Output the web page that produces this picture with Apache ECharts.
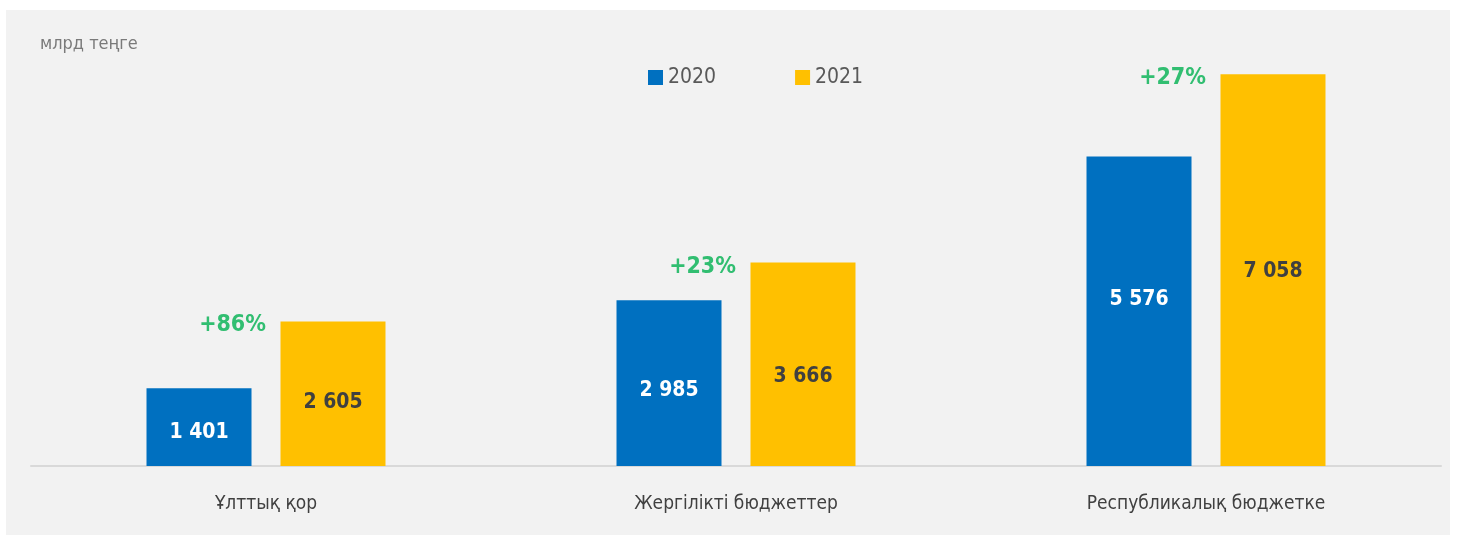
<!DOCTYPE html>
<html>
<head>
    <meta charset="utf-8">
    <script src="https://cdn.jsdelivr.net/npm/echarts@6/dist/echarts.min.js"></script>
    <style>
        body { margin: 0; background: #fff; }
    </style>
</head>
<body>
    <div id="main" style="width: 1457px;height:535px;"></div>
    <script type="text/javascript">
        var categories = ['Ұлттық қор', 'Жергілікті бюджеттер', 'Республикалық бюджетке'];
        var values2020 = [1401, 2985, 5576];
        var values2021 = [2605, 3666, 7058];
        var growth = ['+86%', '+23%', '+27%'];

        // сдвиг подписей внутри столбцов (как в исходнике)
        var shift2020 = [5, 7, -12];
        var shift2021 = [9, 12, 1];

        var font = '"DejaVu Sans Condensed", "Liberation Sans Narrow", sans-serif';

        // пробел как разделитель тысяч
        var fmt = function (v) {
            return String(v).replace(/\B(?=(\d{3})+(?!\d))/g, ' ');
        };

        var withShift = function (vals, shifts) {
            return vals.map(function (v, i) {
                return { value: v, label: { offset: [0, shifts[i]] } };
            });
        };

        var myChart = echarts.init(document.getElementById('main'));

        var option = {
            backgroundColor: '#fff',
            textStyle: { fontFamily: font },
            graphic: [{
                type: 'rect',
                z: -10,
                shape: { x: 6, y: 10, width: 1444, height: 525 },
                style: { fill: '#f2f2f2' }
            }],
            title: {
                text: 'млрд теңге',
                left: 35,
                top: 30,
                textStyle: { fontFamily: font, fontSize: 18, fontWeight: 'normal', color: '#7a7a7a' }
            },
            legend: {
                data: ['2020', '2021'],
                left: 643,
                top: 62,
                itemWidth: 15,
                itemHeight: 15,
                itemGap: 79,
                icon: 'rect',
                textStyle: { fontFamily: font, fontSize: 21, color: '#595959' }
            },
            grid: { left: 31, right: 16, top: 22, bottom: 69 },
            xAxis: {
                type: 'category',
                data: categories,
                axisLine: { lineStyle: { color: '#d9d9d9', width: 2 } },
                axisTick: { show: false },
                axisLabel: { fontFamily: font, fontSize: 19, color: '#404040', margin: 29 }
            },
            yAxis: {
                type: 'value',
                min: 0,
                max: 8000,
                show: false,
                splitLine: { show: false }
            },
            series: [{
                name: '2020',
                type: 'bar',
                data: withShift(values2020, shift2020),
                barWidth: 105,
                barGap: '27.6%',
                itemStyle: { color: '#0070c0' },
                label: {
                    show: true,
                    position: 'inside',
                    formatter: function (p) { return fmt(p.value); },
                    fontFamily: font,
                    fontSize: 21,
                    fontWeight: 'bold',
                    color: '#fff'
                }
            }, {
                name: '2021',
                type: 'bar',
                data: withShift(values2021, shift2021),
                barWidth: 105,
                itemStyle: { color: '#ffc000' },
                label: {
                    show: true,
                    position: 'inside',
                    formatter: function (p) { return fmt(p.value); },
                    fontFamily: font,
                    fontSize: 21,
                    fontWeight: 'bold',
                    color: '#404040'
                }
            }, {
                name: 'growth',
                type: 'scatter',
                data: values2021,
                symbolSize: 0,
                silent: true,
                label: {
                    show: true,
                    position: 'left',
                    distance: 0,
                    offset: [0, 4],
                    formatter: function (p) { return growth[p.dataIndex]; },
                    fontFamily: font,
                    fontSize: 23,
                    fontWeight: 'bold',
                    color: '#00b050'
                }
            }]
        };
        myChart.setOption(option);
    </script>
</body>
</html>
